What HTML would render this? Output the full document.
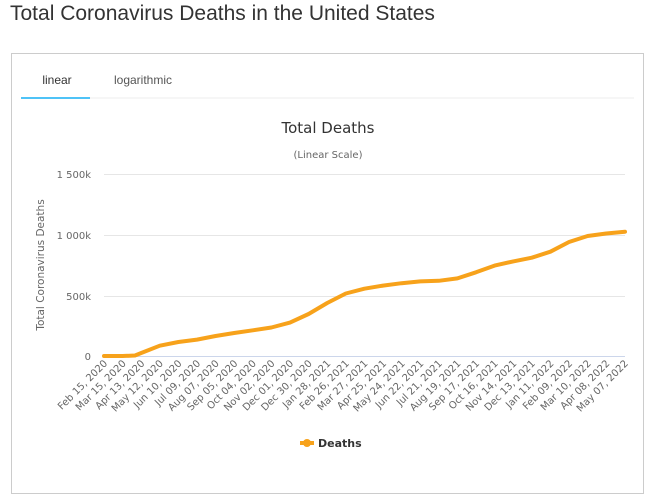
<!DOCTYPE html>
<html><head><meta charset="utf-8"><style>
body{margin:0;background:#fff;font-family:"Liberation Sans",sans-serif;}
</style></head><body>
<svg width="652" height="499" xmlns="http://www.w3.org/2000/svg" font-family="Liberation Sans, sans-serif">
<text x="10" y="20" font-size="21" fill="#333">Total Coronavirus Deaths in the United States</text>
<rect x="11.5" y="53.5" width="632" height="440" fill="#fff" stroke="#ccc"/>
<line x1="21" y1="98" x2="634" y2="98" stroke="#eee"/>
<rect x="21" y="97" width="69" height="2" fill="#4fc3f7"/>
<text x="57" y="84" font-size="12" fill="#333" text-anchor="middle">linear</text>
<text x="143" y="84" font-size="12" fill="#555" text-anchor="middle">logarithmic</text>
<g font-family="DejaVu Sans, sans-serif">
<text x="328" y="133" font-size="15" fill="#333" text-anchor="middle">Total Deaths</text>
<text x="328" y="158" font-size="10" fill="#666" text-anchor="middle">(Linear Scale)</text>
<g stroke="#e6e6e6"><line x1="104" y1="174.5" x2="625" y2="174.5"/><line x1="104" y1="235.5" x2="625" y2="235.5"/><line x1="104" y1="296.5" x2="625" y2="296.5"/></g>
<line x1="104" y1="356.5" x2="625" y2="356.5" stroke="#ccd6eb"/>
<g font-size="10" fill="#666" text-anchor="end">
<text x="91" y="178">1 500k</text><text x="91" y="239">1 000k</text><text x="91" y="300">500k</text><text x="91" y="360">0</text>
</g>
<text transform="translate(44,265) rotate(-90)" font-size="10.5" fill="#666" text-anchor="middle">Total Coronavirus Deaths</text>
<polyline fill="none" stroke="#f7a21b" stroke-width="4" stroke-linejoin="round" stroke-linecap="round" points="104,356 122.6,356 135,355.5 141.2,353 159.8,345.7 178.4,342 197,339.6 215.6,336 234.2,333 252.8,330.3 271.4,327.5 290,322.6 308.6,314 327.2,303 345.8,293.5 364.4,288.7 383,285.6 401.6,283.2 420.2,281.4 438.8,280.8 457.4,278.4 476,272.3 494.6,265.6 513.2,261.4 531.8,257.7 550.4,251.7 569,242 587.6,236 606.2,233.5 625,231.7"/>
<g font-size="10" fill="#666" text-anchor="end">
<text transform="translate(108,364) rotate(-45)">Feb 15, 2020</text>
<text transform="translate(126.6,364) rotate(-45)">Mar 15, 2020</text>
<text transform="translate(145.2,364) rotate(-45)">Apr 13, 2020</text>
<text transform="translate(163.8,364) rotate(-45)">May 12, 2020</text>
<text transform="translate(182.4,364) rotate(-45)">Jun 10, 2020</text>
<text transform="translate(201,364) rotate(-45)">Jul 09, 2020</text>
<text transform="translate(219.6,364) rotate(-45)">Aug 07, 2020</text>
<text transform="translate(238.2,364) rotate(-45)">Sep 05, 2020</text>
<text transform="translate(256.8,364) rotate(-45)">Oct 04, 2020</text>
<text transform="translate(275.4,364) rotate(-45)">Nov 02, 2020</text>
<text transform="translate(294,364) rotate(-45)">Dec 01, 2020</text>
<text transform="translate(312.6,364) rotate(-45)">Dec 30, 2020</text>
<text transform="translate(331.2,364) rotate(-45)">Jan 28, 2021</text>
<text transform="translate(349.8,364) rotate(-45)">Feb 26, 2021</text>
<text transform="translate(368.4,364) rotate(-45)">Mar 27, 2021</text>
<text transform="translate(387,364) rotate(-45)">Apr 25, 2021</text>
<text transform="translate(405.6,364) rotate(-45)">May 24, 2021</text>
<text transform="translate(424.2,364) rotate(-45)">Jun 22, 2021</text>
<text transform="translate(442.8,364) rotate(-45)">Jul 21, 2021</text>
<text transform="translate(461.4,364) rotate(-45)">Aug 19, 2021</text>
<text transform="translate(480,364) rotate(-45)">Sep 17, 2021</text>
<text transform="translate(498.6,364) rotate(-45)">Oct 16, 2021</text>
<text transform="translate(517.2,364) rotate(-45)">Nov 14, 2021</text>
<text transform="translate(535.8,364) rotate(-45)">Dec 13, 2021</text>
<text transform="translate(554.4,364) rotate(-45)">Jan 11, 2022</text>
<text transform="translate(573,364) rotate(-45)">Feb 09, 2022</text>
<text transform="translate(591.6,364) rotate(-45)">Mar 10, 2022</text>
<text transform="translate(610.2,364) rotate(-45)">Apr 08, 2022</text>
<text transform="translate(628.8,364) rotate(-45)">May 07, 2022</text>
</g>
<line x1="300" y1="443" x2="314" y2="443" stroke="#f7a21b" stroke-width="4"/>
<circle cx="307" cy="443" r="4" fill="#f7a21b"/>
<text x="318" y="447" font-size="11" font-weight="bold" fill="#333">Deaths</text>
</g>
</svg>
</body></html>
